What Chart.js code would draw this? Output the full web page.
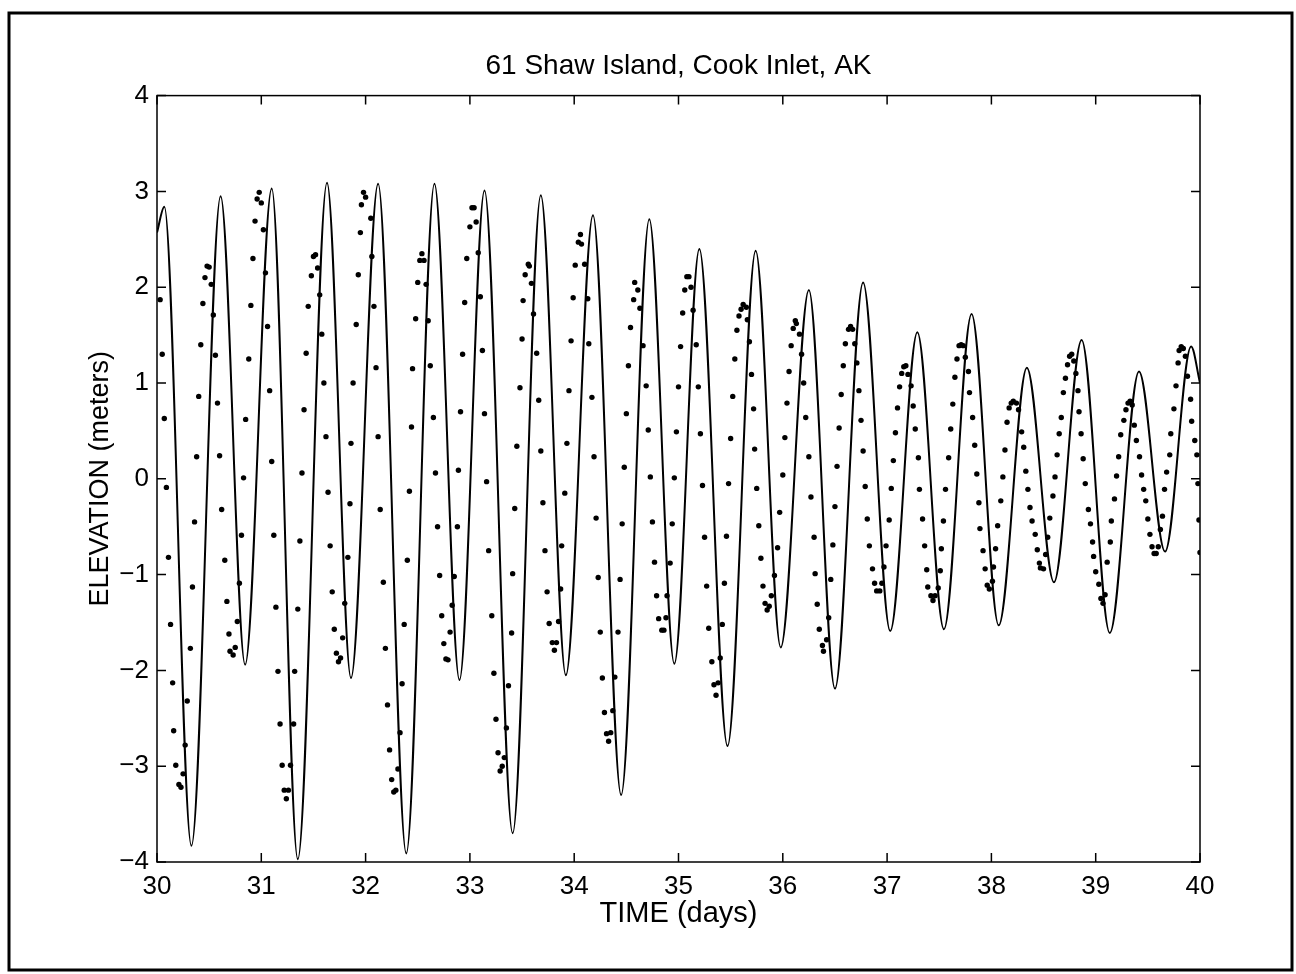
<!DOCTYPE html>
<html>
<head>
<meta charset="utf-8">
<title>61 Shaw Island, Cook Inlet, AK</title>
<script src="https://cdn.jsdelivr.net/npm/chart.js@4.4.1/dist/chart.umd.min.js"></script>
<style>
  html, body { margin: 0; padding: 0; background: #fff; }
  canvas { display: block; }
</style>
</head>
<body>
<canvas id="tideChart" width="1296" height="974"></canvas>
<script>
// axis ticks
var xTicks = [30, 31, 32, 33, 34, 35, 36, 37, 38, 39, 40];
var yTicks = [-4, -3, -2, -1, 0, 1, 2, 3, 4];

// solid curve (model) - turning points, days / meters
var modelDay  = [30.00, 30.07, 30.33, 30.61, 30.845, 31.10, 31.35, 31.63, 31.86, 32.12, 32.39, 32.66, 32.90, 33.14, 33.41,
                 33.68, 33.92, 34.18, 34.45, 34.72, 34.96, 35.20, 35.47, 35.74, 35.98, 36.25, 36.50, 36.77, 37.03, 37.29,
                 37.545, 37.81, 38.07, 38.34, 38.60, 38.865, 39.135, 39.415, 39.665, 39.915, 40.00];
var modelElev = [2.57, 2.84, -3.83, 2.95, -1.94, 3.03, -3.97, 3.09, -2.08, 3.08, -3.91, 3.08, -2.10, 3.01, -3.70,
                 2.96, -2.05, 2.75, -3.30, 2.71, -1.93, 2.40, -2.79, 2.38, -1.76, 1.97, -2.19, 2.05, -1.59, 1.53,
                 -1.57, 1.72, -1.53, 1.16, -1.08, 1.45, -1.61, 1.12, -0.76, 1.38, 1.00];

// observed elevations (dots) [day, meters]
var obsPoints = [
  [30.03,1.87],[30.05,1.30],[30.07,0.63],[30.09,-0.09],[30.11,-0.82],[30.13,-1.52],[30.15,-2.13],[30.16,-2.63],
  [30.18,-2.99],[30.21,-3.19],[30.23,-3.22],[30.25,-3.08],[30.27,-2.78],[30.29,-2.32],[30.32,-1.77],[30.34,-1.13],
  [30.36,-0.45],[30.38,0.23],[30.40,0.86],[30.42,1.40],[30.44,1.83],[30.46,2.10],[30.48,2.22],[30.50,2.21],
  [30.52,2.03],[30.54,1.71],[30.56,1.29],[30.58,0.79],[30.60,0.24],[30.62,-0.32],[30.65,-0.85],[30.67,-1.28],
  [30.69,-1.62],[30.70,-1.80],[30.73,-1.84],[30.75,-1.76],[30.77,-1.49],[30.79,-1.09],[30.81,-0.59],[30.83,0.01],
  [30.85,0.62],[30.88,1.25],[30.90,1.81],[30.92,2.30],[30.94,2.69],[30.96,2.92],[30.98,2.99],[31.00,2.88],
  [31.02,2.60],[31.04,2.15],[31.06,1.59],[31.08,0.92],[31.10,0.18],[31.12,-0.59],[31.14,-1.34],[31.16,-2.01],
  [31.18,-2.56],[31.20,-2.99],[31.22,-3.25],[31.24,-3.34],[31.26,-3.25],[31.28,-2.99],[31.31,-2.56],[31.32,-2.01],
  [31.35,-1.36],[31.37,-0.65],[31.39,0.06],[31.41,0.72],[31.43,1.31],[31.45,1.80],[31.48,2.12],[31.50,2.32],
  [31.52,2.34],[31.54,2.20],[31.56,1.92],[31.58,1.51],[31.60,1.00],[31.62,0.44],[31.64,-0.14],[31.66,-0.70],
  [31.68,-1.18],[31.70,-1.57],[31.72,-1.82],[31.74,-1.91],[31.76,-1.87],[31.78,-1.66],[31.80,-1.30],[31.83,-0.82],
  [31.85,-0.26],[31.86,0.37],[31.88,1.00],[31.91,1.61],[31.93,2.13],[31.95,2.57],[31.96,2.86],[31.98,2.99],
  [32.00,2.94],[32.05,2.72],[32.06,2.32],[32.08,1.80],[32.10,1.16],[32.12,0.44],[32.14,-0.32],[32.17,-1.08],
  [32.19,-1.77],[32.21,-2.36],[32.23,-2.83],[32.25,-3.14],[32.27,-3.27],[32.29,-3.25],[32.31,-3.03],[32.33,-2.65],
  [32.35,-2.14],[32.37,-1.52],[32.40,-0.85],[32.42,-0.13],[32.44,0.54],[32.45,1.15],[32.48,1.67],[32.50,2.05],
  [32.52,2.28],[32.54,2.35],[32.56,2.28],[32.58,2.03],[32.60,1.65],[32.62,1.18],[32.65,0.64],[32.67,0.06],
  [32.69,-0.50],[32.71,-1.01],[32.73,-1.43],[32.75,-1.72],[32.77,-1.88],[32.79,-1.89],[32.81,-1.60],[32.83,-1.32],
  [32.85,-1.02],[32.88,-0.50],[32.89,0.09],[32.91,0.70],[32.93,1.30],[32.95,1.84],[32.97,2.30],[33.00,2.63],
  [33.02,2.83],[33.04,2.83],[33.06,2.68],[33.08,2.36],[33.10,1.90],[33.12,1.34],[33.14,0.68],[33.16,-0.03],
  [33.18,-0.75],[33.21,-1.43],[33.23,-2.03],[33.25,-2.51],[33.27,-2.86],[33.29,-3.05],[33.31,-3.00],[33.33,-2.91],
  [33.35,-2.60],[33.37,-2.16],[33.40,-1.61],[33.41,-0.99],[33.43,-0.31],[33.45,0.34],[33.48,0.95],[33.50,1.46],
  [33.51,1.86],[33.53,2.13],[33.56,2.24],[33.57,2.22],[33.59,2.04],[33.61,1.72],[33.64,1.31],[33.66,0.82],
  [33.68,0.29],[33.70,-0.25],[33.72,-0.75],[33.74,-1.18],[33.76,-1.51],[33.79,-1.71],[33.81,-1.79],[33.83,-1.71],
  [33.85,-1.49],[33.87,-1.15],[33.88,-0.70],[33.91,-0.15],[33.93,0.37],[33.95,0.92],[33.97,1.44],[33.99,1.89],
  [34.01,2.23],[34.04,2.47],[34.06,2.55],[34.07,2.45],[34.10,2.24],[34.13,1.88],[34.14,1.41],[34.17,0.85],
  [34.19,0.23],[34.21,-0.41],[34.23,-1.03],[34.25,-1.60],[34.27,-2.08],[34.29,-2.44],[34.31,-2.66],[34.33,-2.74],
  [34.35,-2.65],[34.37,-2.42],[34.39,-2.07],[34.42,-1.60],[34.44,-1.05],[34.46,-0.47],[34.48,0.12],[34.50,0.68],
  [34.52,1.18],[34.54,1.58],[34.57,1.87],[34.58,2.05],[34.61,1.97],[34.63,1.78],[34.66,1.39],[34.69,0.97],
  [34.71,0.51],[34.73,0.02],[34.75,-0.45],[34.77,-0.87],[34.79,-1.22],[34.81,-1.46],[34.84,-1.58],[34.86,-1.58],
  [34.88,-1.45],[34.89,-1.22],[34.92,-0.88],[34.94,-0.47],[34.96,0.01],[34.98,0.49],[35.00,0.96],[35.02,1.38],
  [35.04,1.73],[35.06,1.97],[35.08,2.11],[35.10,2.11],[35.12,2.00],[35.14,1.76],[35.17,1.40],[35.19,0.96],
  [35.21,0.47],[35.23,-0.07],[35.25,-0.61],[35.27,-1.12],[35.29,-1.56],[35.32,-1.91],[35.34,-2.15],[35.36,-2.26],
  [35.38,-2.13],[35.40,-1.87],[35.42,-1.52],[35.44,-1.09],[35.46,-0.60],[35.48,-0.05],[35.50,0.42],[35.52,0.86],
  [35.54,1.25],[35.56,1.55],[35.58,1.70],[35.60,1.77],[35.62,1.82],[35.65,1.79],[35.66,1.66],[35.68,1.43],
  [35.70,1.09],[35.72,0.73],[35.73,0.31],[35.75,-0.10],[35.77,-0.49],[35.79,-0.83],[35.81,-1.12],[35.83,-1.30],
  [35.85,-1.37],[35.87,-1.33],[35.89,-1.22],[35.92,-1.01],[35.95,-0.72],[35.97,-0.35],[36.00,0.04],[36.02,0.43],
  [36.04,0.79],[36.06,1.12],[36.08,1.39],[36.10,1.57],[36.12,1.65],[36.13,1.62],[36.16,1.51],[36.18,1.30],
  [36.20,1.00],[36.22,0.64],[36.25,0.23],[36.27,-0.19],[36.30,-0.61],[36.31,-0.99],[36.33,-1.31],[36.35,-1.57],
  [36.38,-1.74],[36.39,-1.80],[36.42,-1.68],[36.44,-1.45],[36.46,-1.05],[36.48,-0.69],[36.50,-0.29],[36.52,0.13],
  [36.54,0.53],[36.56,0.88],[36.58,1.18],[36.60,1.41],[36.63,1.56],[36.65,1.59],[36.67,1.56],[36.69,1.41],
  [36.71,1.21],[36.73,0.92],[36.75,0.61],[36.77,0.29],[36.79,-0.08],[36.81,-0.42],[36.83,-0.70],[36.86,-0.94],
  [36.88,-1.09],[36.90,-1.17],[36.93,-1.17],[36.95,-1.09],[36.97,-0.92],[36.99,-0.70],[37.02,-0.43],[37.04,-0.10],
  [37.06,0.19],[37.08,0.48],[37.10,0.74],[37.12,0.96],[37.14,1.10],[37.16,1.17],[37.18,1.18],[37.20,1.09],
  [37.23,0.97],[37.25,0.76],[37.27,0.52],[37.30,0.22],[37.31,-0.11],[37.34,-0.42],[37.36,-0.70],[37.38,-0.95],
  [37.39,-1.13],[37.42,-1.22],[37.44,-1.27],[37.46,-1.22],[37.49,-1.14],[37.51,-0.96],[37.52,-0.73],[37.54,-0.44],
  [37.56,-0.11],[37.59,0.22],[37.61,0.52],[37.63,0.78],[37.65,1.06],[37.67,1.25],[37.69,1.39],[37.71,1.40],
  [37.73,1.39],[37.75,1.27],[37.78,1.12],[37.79,0.90],[37.82,0.64],[37.84,0.35],[37.86,0.05],[37.88,-0.25],
  [37.89,-0.52],[37.92,-0.75],[37.94,-0.94],[37.96,-1.11],[37.98,-1.15],[38.01,-1.07],[38.02,-0.92],[38.04,-0.73],
  [38.06,-0.49],[38.09,-0.23],[38.11,0.02],[38.13,0.30],[38.15,0.59],[38.17,0.74],[38.19,0.79],[38.21,0.81],
  [38.24,0.79],[38.26,0.72],[38.29,0.49],[38.31,0.33],[38.33,0.08],[38.35,-0.11],[38.37,-0.30],[38.39,-0.44],
  [38.42,-0.58],[38.44,-0.74],[38.46,-0.88],[38.47,-0.93],[38.50,-0.94],[38.52,-0.79],[38.54,-0.61],[38.56,-0.41],
  [38.59,-0.18],[38.61,0.02],[38.63,0.25],[38.65,0.47],[38.67,0.64],[38.69,0.90],[38.71,1.05],[38.73,1.19],
  [38.75,1.28],[38.77,1.30],[38.79,1.23],[38.81,1.10],[38.83,0.92],[38.84,0.70],[38.86,0.47],[38.88,0.21],
  [38.90,-0.05],[38.93,-0.32],[38.95,-0.47],[38.97,-0.66],[38.98,-0.81],[39.00,-0.97],[39.03,-1.10],[39.05,-1.25],
  [39.07,-1.30],[39.09,-1.21],[39.11,-0.87],[39.14,-0.66],[39.15,-0.44],[39.18,-0.21],[39.20,0.03],[39.22,0.23],
  [39.24,0.46],[39.27,0.61],[39.29,0.72],[39.31,0.79],[39.33,0.81],[39.35,0.77],[39.37,0.56],[39.39,0.40],
  [39.42,0.23],[39.44,0.04],[39.46,-0.11],[39.48,-0.23],[39.50,-0.42],[39.52,-0.58],[39.54,-0.71],[39.56,-0.78],
  [39.58,-0.78],[39.60,-0.71],[39.62,-0.53],[39.64,-0.39],[39.66,-0.11],[39.68,0.07],[39.71,0.25],[39.72,0.47],
  [39.75,0.73],[39.77,0.97],[39.79,1.21],[39.80,1.34],[39.82,1.38],[39.84,1.36],[39.86,1.28],[39.88,1.07],
  [39.91,0.83],[39.92,0.60],[39.95,0.40],[39.97,0.25],[39.98,-0.05],[39.99,-0.43],[40.00,-0.77]
];

var FONT = '"Liberation Sans", Arial, Helvetica, sans-serif';

var modelData = modelDay.map(function (d, i) { return { x: d, y: modelElev[i] }; });
var obsData = obsPoints.map(function (p) { return { x: p[0], y: p[1] }; });

// white page, figure border, axes box and inward ticks on all 4 sides (matlab style)
var frameTicks = {
  id: 'frameTicks',
  beforeDraw: function (chart) {
    var ctx = chart.ctx;
    ctx.save();
    ctx.fillStyle = '#fff';
    ctx.fillRect(0, 0, chart.width, chart.height);
    ctx.restore();
  },
  afterDatasetsDraw: function (chart) {
    var ctx = chart.ctx, a = chart.chartArea;
    var xs = chart.scales.x, ys = chart.scales.y;
    var len = 9;
    ctx.save();
    ctx.strokeStyle = '#000';
    ctx.lineWidth = 1.5;
    ctx.strokeRect(a.left, a.top, a.right - a.left, a.bottom - a.top);
    ctx.beginPath();
    xs.ticks.forEach(function (t) {
      var px = xs.getPixelForValue(t.value);
      ctx.moveTo(px, a.bottom); ctx.lineTo(px, a.bottom - len);
      ctx.moveTo(px, a.top); ctx.lineTo(px, a.top + len);
    });
    ys.ticks.forEach(function (t) {
      var py = ys.getPixelForValue(t.value);
      ctx.moveTo(a.left, py); ctx.lineTo(a.left + len, py);
      ctx.moveTo(a.right, py); ctx.lineTo(a.right - len, py);
    });
    ctx.stroke();
    // outer figure frame
    ctx.lineWidth = 3;
    ctx.strokeRect(9, 13, 1283, 957);
    ctx.restore();
  }
};

new Chart(document.getElementById('tideChart'), {
  type: 'scatter',
  data: {
    datasets: [
      {
        label: 'model',
        data: modelData,
        showLine: true,
        cubicInterpolationMode: 'monotone',
        borderColor: '#000',
        borderWidth: 2,
        pointRadius: 0,
        fill: false
      },
      {
        label: 'observed',
        data: obsData,
        showLine: false,
        pointRadius: 2.7,
        pointBorderWidth: 0,
        pointBackgroundColor: '#000',
        borderColor: '#000'
      }
    ]
  },
  options: {
    responsive: false,
    animation: false,
    devicePixelRatio: 1,
    layout: { padding: { left: 0, right: 96, top: 0, bottom: 0 } },
    plugins: {
      legend: { display: false },
      tooltip: { enabled: false },
      title: {
        display: true,
        fullSize: false,   // centre it over the plot box, not the whole canvas
        text: '61 Shaw Island, Cook Inlet, AK',
        color: '#000',
        font: { family: FONT, size: 28, weight: 'normal', lineHeight: 1.2 },
        padding: { top: 49, bottom: 13 }
      }
    },
    scales: {
      x: {
        type: 'linear',
        min: 30,
        max: 40,
        afterFit: function (s) { s.height = 112; },
        afterBuildTicks: function (s) { s.ticks = xTicks.map(function (v) { return { value: v }; }); },
        grid: { display: false, drawTicks: false },
        border: { display: false },
        ticks: { color: '#000', font: { family: FONT, size: 26 }, padding: 9, maxRotation: 0, autoSkip: false },
        title: {
          display: true,
          text: 'TIME (days)',
          color: '#000',
          font: { family: FONT, size: 29, lineHeight: 1.2 },
          padding: { top: 0, bottom: 43 }
        }
      },
      y: {
        type: 'linear',
        min: -4,
        max: 4,
        afterFit: function (s) { s.width = 157; },
        afterBuildTicks: function (s) { s.ticks = yTicks.map(function (v) { return { value: v }; }); },
        grid: { display: false, drawTicks: false },
        border: { display: false },
        ticks: {
          color: '#000',
          font: { family: FONT, size: 26 },
          padding: 8,
          autoSkip: false,
          callback: function (v) { return v < 0 ? '\u2212' + Math.abs(v) : String(v); }
        },
        title: {
          display: true,
          text: 'ELEVATION (meters)',
          color: '#000',
          font: { family: FONT, size: 27, lineHeight: 1.2 },
          padding: { top: 84, bottom: 0 }
        }
      }
    }
  },
  plugins: [frameTicks]
});
</script>
</body>
</html>
